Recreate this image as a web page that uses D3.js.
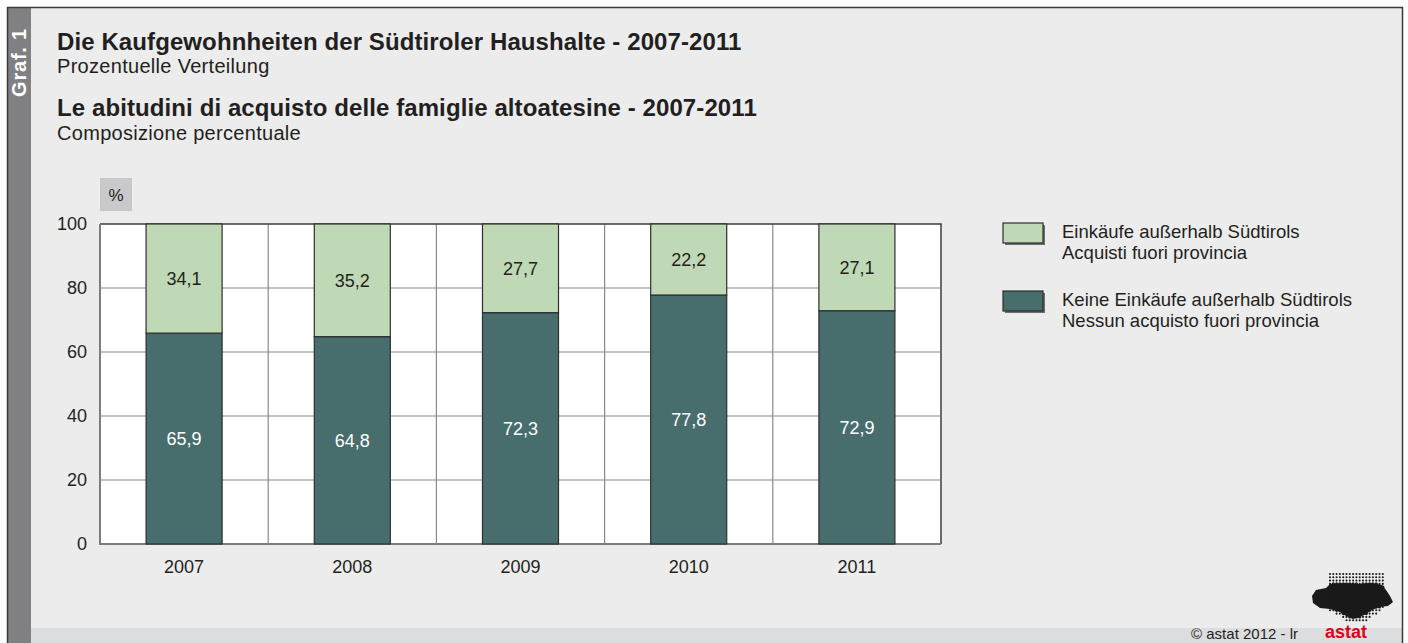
<!DOCTYPE html>
<html>
<head>
<meta charset="utf-8">
<script src="https://cdn.jsdelivr.net/npm/d3@7"></script>
<style>
  body { margin: 0; background: #fff; }
  svg { display: block; font-family: "Liberation Sans", Arial, sans-serif; }
</style>
</head>
<body>
<svg id="chart" width="1408" height="643"></svg>
<script>
// data
const years = ["2007", "2008", "2009", "2010", "2011"];
const keineEinkaeufe = [65.9, 64.8, 72.3, 77.8, 72.9];
const einkaeufeAusserhalb = [34.1, 35.2, 27.7, 22.2, 27.1];
const yTicks = [0, 20, 40, 60, 80, 100];
const seriesKeys = ["keine", "ausser"];
const seriesColors = { keine: "#476e6c", ausser: "#bfd8b5" };
const legendItems = [
  { key: "ausser", lines: ["Einkäufe außerhalb Südtirols", "Acquisti fuori provincia"] },
  { key: "keine", lines: ["Keine Einkäufe außerhalb Südtirols", "Nessun acquisto fuori provincia"] }
];

const rows = years.map((y, i) => ({ year: y, keine: keineEinkaeufe[i], ausser: einkaeufeAusserhalb[i] }));

const svg = d3.select("#chart");
const W = 1408, H = 643;

// ---- frame ----
svg.append("rect").attr("x", 0).attr("y", 0).attr("width", W).attr("height", H).attr("fill", "#ffffff");
svg.append("rect").attr("x", 7).attr("y", 7).attr("width", 1395).attr("height", H).attr("fill", "#ebeceb");
svg.append("rect").attr("x", 31).attr("y", 628).attr("width", 1371).attr("height", 20).attr("fill", "#dcdddf");
svg.append("rect").attr("x", 7).attr("y", 7).attr("width", 24).attr("height", H).attr("fill", "#808083");
svg.append("path").attr("d", `M7.5,${H} V7.5 H1402.5 V${H}`).attr("fill", "none").attr("stroke", "#3a3a3a").attr("stroke-width", 1.5);

svg.append("text")
  .attr("transform", "translate(26,28) rotate(-90)")
  .attr("text-anchor", "end")
  .attr("fill", "#ffffff").attr("font-weight", "bold").attr("font-size", 20)
  .style("letter-spacing", "0.8px")
  .text("Graf. 1");

// ---- titles ----
const titles = [
  { t: "Die Kaufgewohnheiten der Südtiroler Haushalte - 2007-2011", y: 50, bold: true },
  { t: "Prozentuelle Verteilung", y: 73, bold: false },
  { t: "Le abitudini di acquisto delle famiglie altoatesine - 2007-2011", y: 116, bold: true },
  { t: "Composizione percentuale", y: 140, bold: false }
];
svg.append("g").selectAll("text").data(titles).join("text")
  .attr("x", 57).attr("y", d => d.y)
  .attr("fill", "#231f20")
  .attr("font-size", d => d.bold ? 24 : 20)
  .attr("font-weight", d => d.bold ? "bold" : "normal")
  .style("letter-spacing", d => d.bold ? "0.1px" : "0.3px")
  .text(d => d.t);

// ---- scales ----
const plot = { left: 100, right: 941, top: 224, bottom: 544 };
const x = d3.scaleBand().domain(years).range([plot.left, plot.right]).paddingInner(0.548).paddingOuter(0.274);
const y = d3.scaleLinear().domain([0, 100]).range([plot.bottom, plot.top]);
const step = x.step();

// plot background
svg.append("rect")
  .attr("x", plot.left).attr("y", plot.top)
  .attr("width", plot.right - plot.left).attr("height", plot.bottom - plot.top)
  .attr("fill", "#ffffff");

// grid
const grid = svg.append("g").attr("stroke", "#8a8a8a").attr("stroke-width", 1.2);
grid.selectAll("line.h").data(yTicks.filter(t => t > 0 && t < 100)).join("line")
  .attr("x1", plot.left).attr("x2", plot.right)
  .attr("y1", d => y(d)).attr("y2", d => y(d));
grid.selectAll("line.v").data(years.slice(1)).join("line")
  .attr("x1", d => x(d) - (step - x.bandwidth()) / 2).attr("x2", d => x(d) - (step - x.bandwidth()) / 2)
  .attr("y1", plot.top).attr("y2", plot.bottom);

// border of plot
svg.append("path")
  .attr("d", `M${plot.left},${plot.top} H${plot.right} V${plot.bottom}`)
  .attr("fill", "none").attr("stroke", "#3c3c3c").attr("stroke-width", 1.5);
svg.append("path")
  .attr("d", `M${plot.left},${plot.top} V${plot.bottom} H${plot.right}`)
  .attr("fill", "none").attr("stroke", "#7d7d7d").attr("stroke-width", 2);

// ---- bars ----
const stack = d3.stack().keys(seriesKeys)(rows);
const barG = svg.append("g");
stack.forEach(s => {
  barG.append("g").selectAll("rect").data(s).join("rect")
    .attr("x", d => x(d.data.year))
    .attr("y", d => y(d[1]))
    .attr("width", x.bandwidth())
    .attr("height", d => y(d[0]) - y(d[1]))
    .attr("fill", seriesColors[s.key])
    .attr("stroke", "#2e2e2e").attr("stroke-width", 1.2);
  barG.append("g").selectAll("text").data(s).join("text")
    .attr("x", d => x(d.data.year) + x.bandwidth() / 2)
    .attr("y", d => (y(d[0]) + y(d[1])) / 2)
    .attr("dy", "0.36em")
    .attr("text-anchor", "middle")
    .attr("font-size", 18)
    .attr("fill", s.key === "keine" ? "#ffffff" : "#231f20")
    .text(d => d3.format(".1f")(d[1] - d[0]).replace(".", ","));
});

// ---- axes ----
const yAxis = svg.append("g")
  .attr("transform", `translate(${plot.left},0)`)
  .call(d3.axisLeft(y).tickValues(yTicks).tickSize(0).tickPadding(13));
yAxis.select(".domain").remove();
yAxis.selectAll("text").attr("font-size", 18).attr("fill", "#231f20").attr("font-family", "Liberation Sans, Arial, sans-serif");

const xAxis = svg.append("g")
  .attr("transform", `translate(0,${plot.bottom})`)
  .call(d3.axisBottom(x).tickSize(0).tickPadding(16));
xAxis.select(".domain").remove();
xAxis.selectAll("text").attr("font-size", 18).attr("fill", "#231f20").attr("font-family", "Liberation Sans, Arial, sans-serif");

// unit box
svg.append("rect").attr("x", 100).attr("y", 178).attr("width", 32).attr("height", 33).attr("fill", "#c9c9cb");
svg.append("text").attr("x", 116).attr("y", 201).attr("text-anchor", "middle")
  .attr("font-size", 17).attr("fill", "#231f20").text("%");

// ---- legend ----
const legend = svg.append("g").attr("transform", "translate(1003,223)");
const li = legend.selectAll("g").data(legendItems).join("g")
  .attr("transform", (d, i) => `translate(0,${i * 68})`);
li.append("rect").attr("x", 2).attr("y", 2).attr("width", 40).attr("height", 20).attr("fill", "#6e6e6e");
li.append("rect").attr("width", 40).attr("height", 20)
  .attr("fill", d => seriesColors[d.key]).attr("stroke", "#2e2e2e").attr("stroke-width", 1.2);
li.append("text").attr("x", 59).attr("y", 15).attr("font-size", 18.5).attr("fill", "#231f20")
  .selectAll("tspan").data(d => d.lines).join("tspan")
  .attr("x", 59).attr("dy", (d, i) => i === 0 ? 0 : 21).text(d => d);

// ---- footer ----
svg.append("text").attr("x", 1298).attr("y", 639).attr("text-anchor", "end")
  .attr("font-size", 15).attr("fill", "#231f20").text("\u00a9  astat 2012 - lr");
svg.append("text").attr("x", 1346).attr("y", 638).attr("text-anchor", "middle")
  .attr("font-size", 18).attr("font-weight", "bold").attr("fill", "#e2001a").text("astat");

// logo: dot raster with dark region (map of the province)
const logo = svg.append("g");
const blob = [[1316,590],[1326,588],[1330,584],[1345,583],[1360,584],[1372,583],[1382,585],[1386,590],[1390,596],[1393,602],[1388,606],[1380,607],[1372,610],[1366,614],[1360,617],[1353,619],[1346,616],[1340,612],[1330,609],[1320,608],[1313,603],[1312,596]];
const dots = [];
for (let gx = 1330; gx <= 1383; gx += 3.3) {
  for (let gy = 574; gy <= 622; gy += 3.3) {
    const narrow = gy > 610 ? (gy - 610) * 1.6 : 0;
    if (Math.abs(gx - 1356) <= 27 - narrow) dots.push([gx, gy]);
  }
}
logo.append("path").attr("d", "M" + blob.join("L") + "Z").attr("fill", "#1a1a1a");
logo.selectAll("circle").data(dots).join("circle")
  .attr("cx", d => d[0]).attr("cy", d => d[1])
  .attr("r", d => d3.polygonContains(blob, d) ? 1.6 : 1.05)
  .attr("fill", "#1a1a1a");
</script>
</body>
</html>
